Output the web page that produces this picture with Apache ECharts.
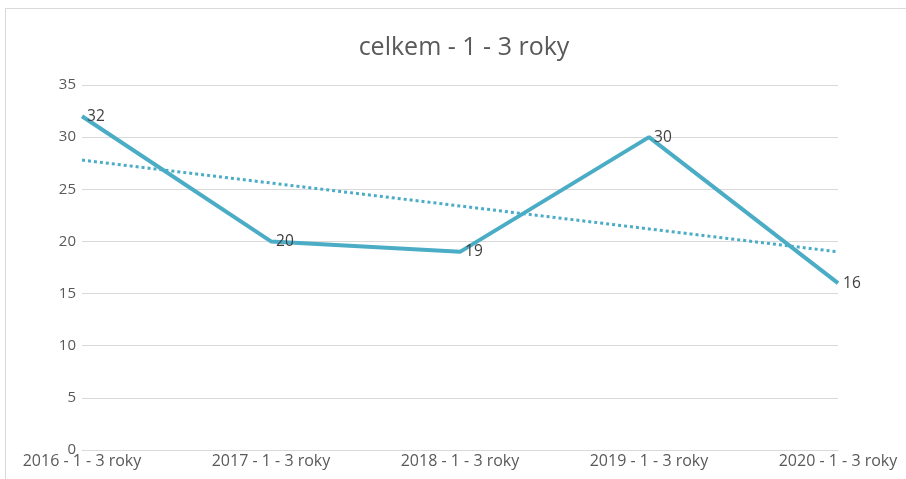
<!DOCTYPE html>
<html>
<head>
<meta charset="utf-8">
<script src="https://cdn.jsdelivr.net/npm/echarts@6/dist/echarts.min.js"></script>
<style>
html,body{margin:0;padding:0;background:#fff;}
#frame{position:absolute;left:5px;top:8px;width:1000px;height:600px;border:1px solid #d9d9d9;box-sizing:border-box;}
#chart{position:absolute;left:0;top:0;width:906px;height:479px;}
</style>
</head>
<body>
<div id="frame"></div>
<div id="chart"></div>
<script>
var titleText = 'celkem - 1 - 3 roky';
var categories = ['2016 - 1 - 3 roky','2017 - 1 - 3 roky','2018 - 1 - 3 roky','2019 - 1 - 3 roky','2020 - 1 - 3 roky'];
var values = [32, 20, 19, 30, 16];
var trendValues = [27.8, 25.6, 23.4, 21.2, 19.0];
var yTicks = {min: 0, max: 35, interval: 5};

var FONT = '"Open Sans", Lato, sans-serif';
var COLOR = '#4BACC6';
var chart = echarts.init(document.getElementById('chart'), null, {renderer: 'canvas'});
chart.setOption({
  animation: false,
  backgroundColor: 'transparent',
  title: {
    text: titleText,
    left: 459,
    textAlign: 'center',
    top: 30,
    textStyle: {fontFamily: FONT, fontSize: 25, fontWeight: 'normal', color: '#595959'}
  },
  grid: {left: 82, right: 68, top: 85, bottom: 29, containLabel: false},
  xAxis: {
    type: 'category',
    data: categories,
    boundaryGap: false,
    axisLine: {show: true, lineStyle: {color: '#d9d9d9', width: 1}},
    axisTick: {show: false},
    axisLabel: {fontFamily: FONT, fontSize: 16, color: '#595959', margin: 3, interval: 0},
    splitLine: {show: false}
  },
  yAxis: {
    type: 'value',
    min: yTicks.min,
    max: yTicks.max,
    interval: yTicks.interval,
    axisLine: {show: false},
    axisTick: {show: false},
    axisLabel: {fontFamily: FONT, fontSize: 15, color: '#595959', margin: 6},
    splitLine: {show: true, lineStyle: {color: '#d9d9d9', width: 1}}
  },
  series: [
    {
      type: 'line',
      data: values,
      symbol: 'circle',
      symbolSize: 0.1,
      itemStyle: {color: COLOR},
      lineStyle: {color: COLOR, width: 4},
      label: {show: true, position: 'right', distance: 5, fontFamily: FONT, fontSize: 15.5, color: '#404040'},
      labelLayout: {hideOverlap: false},
      z: 3
    },
    {
      type: 'line',
      data: trendValues,
      symbol: 'none',
      silent: true,
      lineStyle: {color: COLOR, width: 3, type: [3, 3]},
      z: 2
    }
  ]
});
</script>
</body>
</html>
